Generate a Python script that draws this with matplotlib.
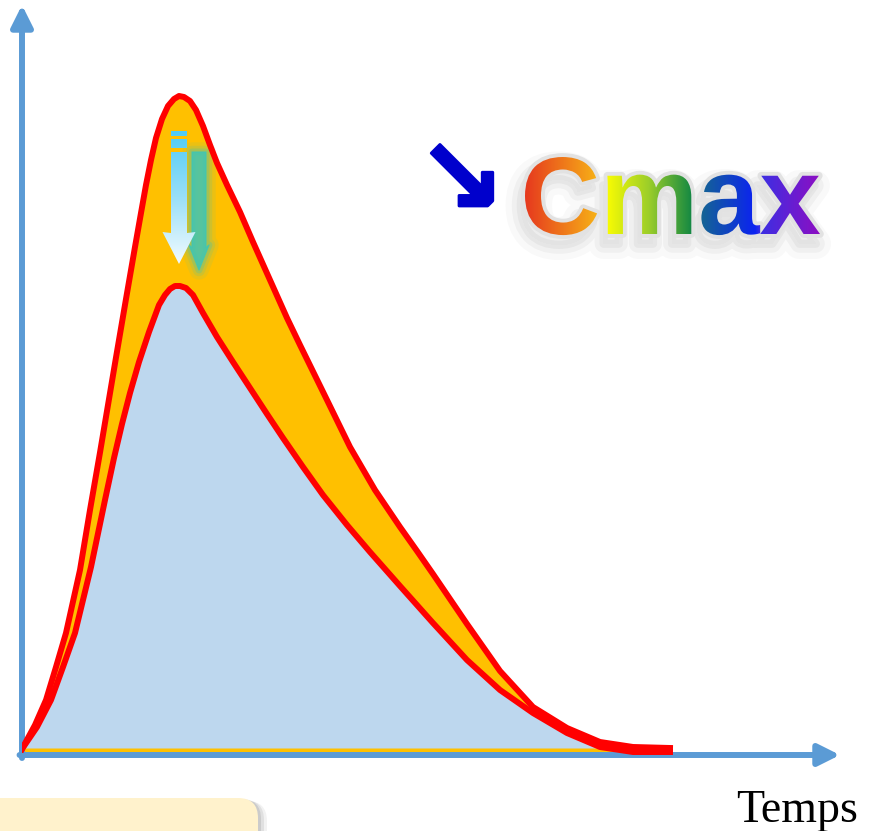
import matplotlib
matplotlib.use('Agg')
import matplotlib.pyplot as plt
import numpy as np
from matplotlib import font_manager as fm
from matplotlib import patheffects as pe
from matplotlib.colors import LinearSegmentedColormap
from matplotlib.patches import PathPatch, FancyBboxPatch
from matplotlib.path import Path
from matplotlib.textpath import TextPath
from matplotlib.transforms import Affine2D

# concentration / time curves
t_before = [0, 0.26, 0.48, 0.68, 0.88, 1.16, 1.36, 1.56, 1.72, 1.88, 2.08, 2.26, 2.38, 2.48,
            2.58, 2.68, 2.80, 2.92, 3.04, 3.14, 3.24, 3.36, 3.48, 3.62, 3.76, 3.90, 4.10,
            4.36, 4.62, 4.96, 5.30, 5.56, 6.10, 6.56, 7.06, 7.56, 7.90, 8.22, 8.90, 9.56,
            10.22, 10.90, 11.56, 12.22, 12.96]
c_before = [0.12, 0.60, 1.10, 1.76, 2.44, 3.70, 4.90, 6.05, 7.00, 7.95, 9.12, 10.16, 10.84, 11.40,
            11.90, 12.34, 12.72, 12.98, 13.12, 13.18, 13.16, 13.08, 12.90, 12.58, 12.20, 11.84, 11.40,
            10.86, 10.26, 9.50, 8.74, 8.20, 7.10, 6.16, 5.30, 4.56, 4.08, 3.62, 2.62, 1.68,
            0.96, 0.54, 0.26, 0.16, 0.14]

t_after = [0, 0.30, 0.58, 0.82, 1.06, 1.38, 1.66, 1.84, 2.00, 2.16, 2.34, 2.54, 2.74, 2.86,
           2.96, 3.06, 3.16, 3.28, 3.42, 3.62, 3.90, 4.22, 4.56, 4.90, 5.22, 5.62, 6.02, 6.50,
           6.96, 7.56, 8.22, 8.90, 9.56, 10.22, 10.90, 11.56, 12.22, 12.96]
c_after = [0.12, 0.56, 1.10, 1.76, 2.44, 3.76, 5.10, 5.94, 6.62, 7.24, 7.86, 8.46, 9.00, 9.20,
           9.32, 9.38, 9.38, 9.34, 9.20, 8.84, 8.36, 7.86, 7.34, 6.82, 6.34, 5.76, 5.20, 4.60,
           4.06, 3.38, 2.64, 1.90, 1.30, 0.84, 0.44, 0.16, 0.06, 0.06]

x_label = 'Temps'
badge = 'Cmax'
badge_arrow = '\u2198'

fig = plt.figure(figsize=(8.72, 8.31), dpi=100)
ax = fig.add_axes([22 / 872, 76 / 831, 818 / 872, 750 / 831])
xlim = (0, 818 / 50)
ylim = (0, 15)
ax.axis('off')

ax.fill_between(t_before, 0.06, c_before, color='#FFC000', lw=0, zorder=1)
ax.fill_between(t_after, 0.14, c_after, color='#BDD7EE', lw=0, zorder=2)
ax.plot(t_before, c_before, color='#FF0000', lw=4.3, zorder=5, solid_joinstyle='round')
ax.plot(t_after, c_after, color='#FF0000', lw=4.3, zorder=5, solid_joinstyle='round')

# axes arrows
axis_arrow = dict(arrowstyle='-|>,head_length=1.3,head_width=0.65', color='#5B9BD5',
                  lw=4.3, shrinkA=0, shrinkB=0)
ax.annotate('', xy=(0, 1), xytext=(0, -0.004), xycoords='axes fraction',
            arrowprops=axis_arrow, annotation_clip=False)
ax.annotate('', xy=(1, 0), xytext=(-0.003, 0), xycoords='axes fraction',
            arrowprops=axis_arrow, annotation_clip=False)

# light blue arrow going from the first peak down to the second one
t_pk = t_before[int(np.argmax(c_before))]
top = max(c_before) - 0.70
tip = max(c_after) + 0.44
hw, hh = 0.16, 0.33
shapes = [
    [(t_pk - hw, top), (t_pk + hw, top), (t_pk + hw, top - 0.10), (t_pk - hw, top - 0.10)],
    [(t_pk - hw, top - 0.16), (t_pk + hw, top - 0.16), (t_pk + hw, top - 0.34), (t_pk - hw, top - 0.34)],
    [(t_pk - hw, top - 0.42), (t_pk + hw, top - 0.42), (t_pk + hw, tip + 0.62),
     (t_pk + hh, tip + 0.64), (t_pk, tip), (t_pk - hh, tip + 0.64), (t_pk - hw, tip + 0.62)],
]
arrow_path = Path.make_compound_path(*[Path(s + [s[0]], closed=True) for s in shapes])

shadow_shape = [(t_pk - 0.14, top - 0.2), (t_pk + 0.14, top - 0.2), (t_pk + 0.14, tip + 0.55),
                (t_pk + 0.2, tip + 0.6), (t_pk, tip + 0.1), (t_pk - 0.2, tip + 0.6),
                (t_pk - 0.14, tip + 0.55)]
shadow_path = Path(shadow_shape + [shadow_shape[0]], closed=True).transformed(
    Affine2D().translate(0.40, -0.22))
for lw_, a_ in [(14, 0.10), (9, 0.16), (5, 0.28), (1, 0.7)]:
    ax.add_patch(PathPatch(shadow_path, fc='#3EC6B6', ec='#3EC6B6', lw=lw_, alpha=a_,
                           joinstyle='round', zorder=3))

arrow_clip = PathPatch(arrow_path, transform=ax.transData, fc='none', ec='none')
ax.add_patch(arrow_clip)
vgrad = np.linspace(0, 1, 256).reshape(-1, 1)
arrow_cmap = LinearSegmentedColormap.from_list('sky', ['#4FCBF5', '#9ADFF8', '#F2FBFF'])
im = ax.imshow(vgrad, cmap=arrow_cmap, extent=[t_pk - 0.4, t_pk + 0.4, tip, top],
               aspect='auto', interpolation='bilinear', zorder=4)
im.set_clip_path(arrow_clip)
ax.set_xlim(*xlim)
ax.set_ylim(*ylim)

# overlay in pixel units for the decorations
deco = fig.add_axes([0, 0, 1, 1], zorder=5)
deco.axis('off')

try:
    fm.findfont(fm.FontProperties(family='Liberation Sans Narrow', weight='bold'),
                fallback_to_default=False)
    badge_family = 'Liberation Sans Narrow'
except ValueError:
    badge_family = 'Liberation Sans'
fp = fm.FontProperties(family=badge_family, weight='bold')

probe = TextPath((0, 0), badge, size=100, prop=fp)
ext = probe.get_extents()
em = 100 * 295 / ext.width
x0 = 525 - ext.x0 * em / 100
yb = 234

deco.text(x0, yb, badge, fontproperties=fp, fontsize=em * 0.72, ha='left', va='baseline',
          color='#E2E2E2', zorder=2,
          path_effects=[pe.Stroke(linewidth=22, foreground='black', alpha=0.025, offset=(-3, -7)),
                        pe.Stroke(linewidth=13, foreground='black', alpha=0.035, offset=(-3, -7)),
                        pe.Stroke(linewidth=6, foreground='black', alpha=0.04, offset=(-3, -7)),
                        pe.Stroke(linewidth=5.5, foreground='#E2E2E2'),
                        pe.Normal()])

badge_path = probe.transformed(Affine2D().scale(em / 100, -em / 100).translate(x0, yb))
badge_clip = PathPatch(badge_path, transform=deco.transData, fc='none', ec='none')
deco.add_patch(badge_clip)
rainbow = LinearSegmentedColormap.from_list('rainbow_cmax', [
    (0.0, '#E6391E'), (0.245, '#F7B217'), (0.267, '#FFFF00'), (0.42, '#9ACD2A'),
    (0.56, '#178A42'), (0.586, '#15688E'), (0.779, '#0B22F2'), (0.796, '#3B2FE3'),
    (1.0, '#8E0EC2')])
hgrad = np.linspace(0, 1, 512).reshape(1, -1)
im2 = deco.imshow(hgrad, cmap=rainbow, extent=[525, 820, yb + 25, yb - em],
                  aspect='auto', interpolation='bilinear', zorder=3)
im2.set_clip_path(badge_clip)

deco.text(461, 184, badge_arrow, family='DejaVu Sans', weight='bold', fontsize=76,
          color='#0000CC', ha='center', va='center', zorder=3,
          path_effects=[pe.Stroke(linewidth=2, foreground='#0000CC'), pe.Normal()])

deco.text(858, 822, x_label, family='Liberation Serif', fontsize=33, ha='right',
          va='baseline', color='black')

# cream box in the bottom left corner
for dx, a_ in [(9, 0.05), (6, 0.07), (3, 0.09)]:
    deco.add_patch(FancyBboxPatch((-20 + dx, 798 + dx / 3), 278, 80,
                                  boxstyle='round,pad=0,rounding_size=20',
                                  fc='black', ec='none', alpha=a_, zorder=1))
deco.add_patch(FancyBboxPatch((-20, 798), 278, 80, boxstyle='round,pad=0,rounding_size=20',
                              fc='#FFF2CC', ec='none', zorder=2))

deco.set_xlim(0, 872)
deco.set_ylim(831, 0)

fig.savefig('out.png', dpi=100)
